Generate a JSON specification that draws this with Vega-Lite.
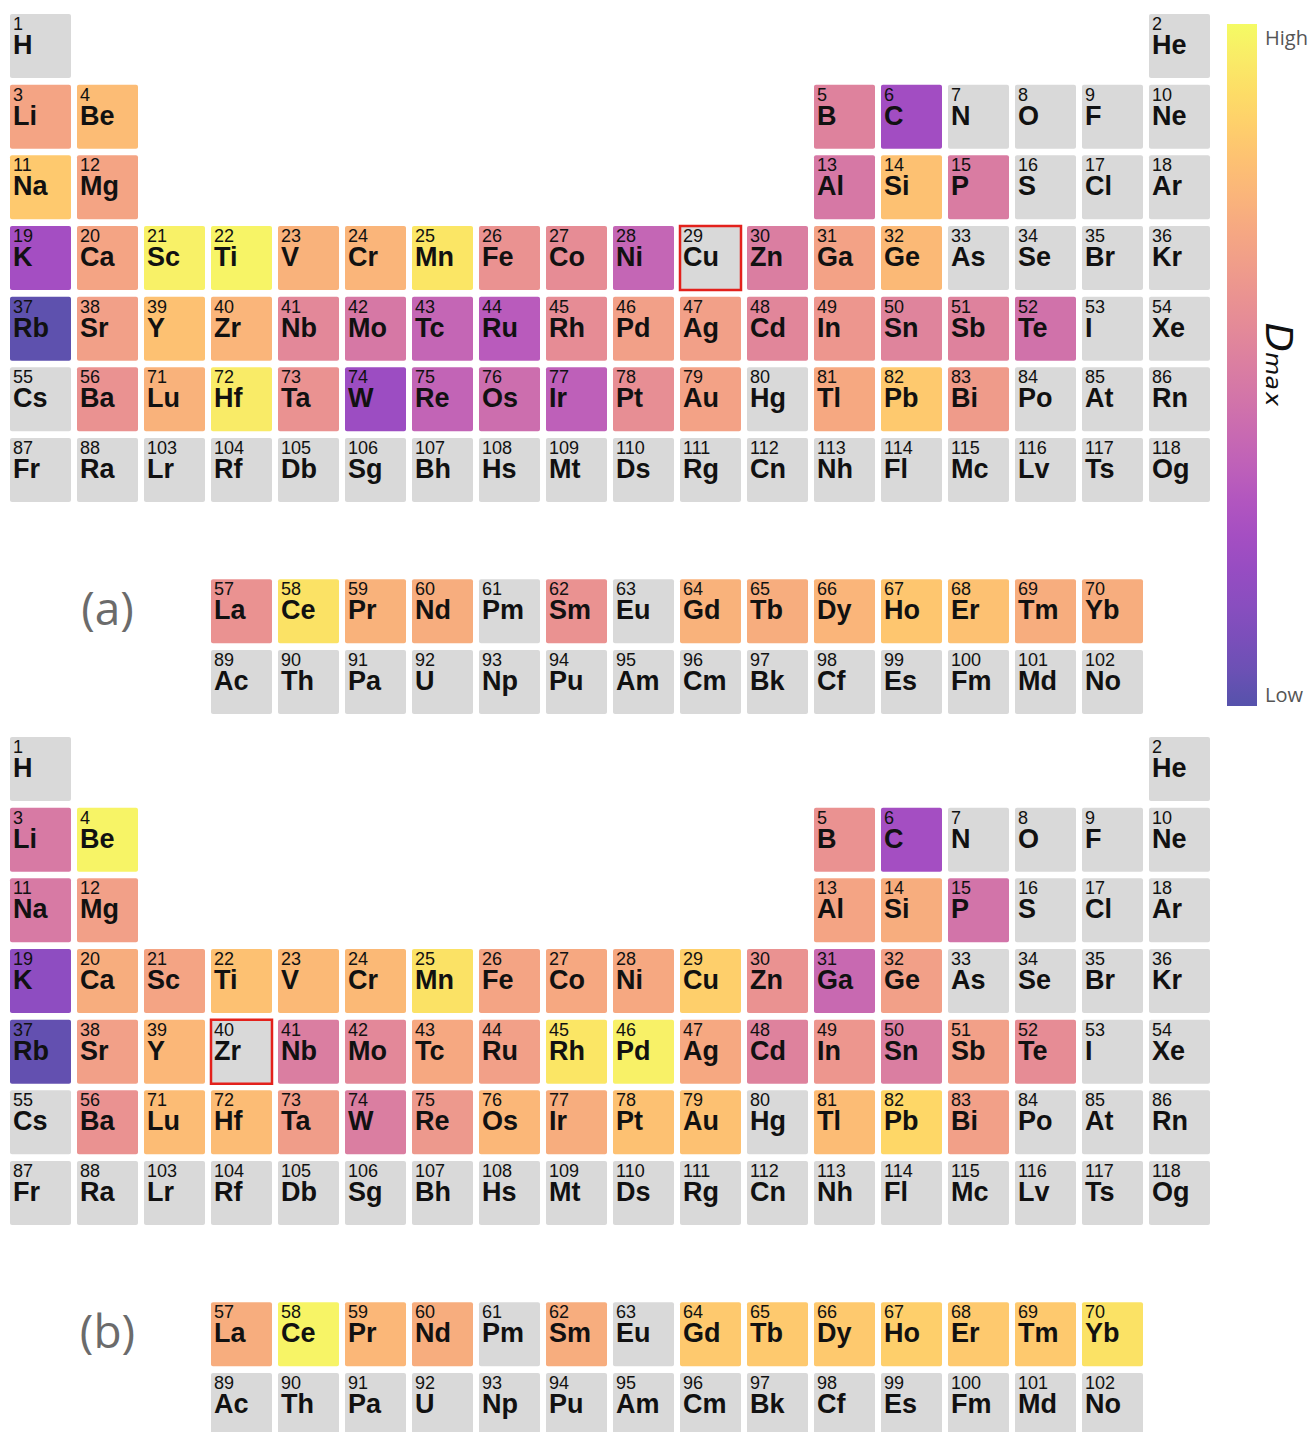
{
  "$schema": "https://vega.github.io/schema/vega-lite/v6.json",
  "padding": {"left": 10, "top": 14, "right": 0, "bottom": 0},
  "background": "white",
  "config": {
    "view": {"stroke": null},
    "concat": {"spacing": 23},
    "font": "Liberation Sans"
  },
  "datasets": {
    "elements": [
      {"z":1,"sym":"H","col":1,"row":1,"a":null,"b":null},
      {"z":2,"sym":"He","col":18,"row":1,"a":null,"b":null},
      {"z":3,"sym":"Li","col":1,"row":2,"a":0.68,"b":0.48},
      {"z":4,"sym":"Be","col":2,"row":2,"a":0.78,"b":0.98},
      {"z":5,"sym":"B","col":13,"row":2,"a":0.52,"b":0.6},
      {"z":6,"sym":"C","col":14,"row":2,"a":0.24,"b":0.25},
      {"z":7,"sym":"N","col":15,"row":2,"a":null,"b":null},
      {"z":8,"sym":"O","col":16,"row":2,"a":null,"b":null},
      {"z":9,"sym":"F","col":17,"row":2,"a":null,"b":null},
      {"z":10,"sym":"Ne","col":18,"row":2,"a":null,"b":null},
      {"z":11,"sym":"Na","col":1,"row":3,"a":0.83,"b":0.48},
      {"z":12,"sym":"Mg","col":2,"row":3,"a":0.68,"b":0.66},
      {"z":13,"sym":"Al","col":13,"row":3,"a":0.47,"b":0.68},
      {"z":14,"sym":"Si","col":14,"row":3,"a":0.8,"b":0.72},
      {"z":15,"sym":"P","col":15,"row":3,"a":0.49,"b":0.45},
      {"z":16,"sym":"S","col":16,"row":3,"a":null,"b":null},
      {"z":17,"sym":"Cl","col":17,"row":3,"a":null,"b":null},
      {"z":18,"sym":"Ar","col":18,"row":3,"a":null,"b":null},
      {"z":19,"sym":"K","col":1,"row":4,"a":0.25,"b":0.17},
      {"z":20,"sym":"Ca","col":2,"row":4,"a":0.68,"b":0.72},
      {"z":21,"sym":"Sc","col":3,"row":4,"a":0.97,"b":0.68},
      {"z":22,"sym":"Ti","col":4,"row":4,"a":0.98,"b":0.8},
      {"z":23,"sym":"V","col":5,"row":4,"a":0.74,"b":0.77},
      {"z":24,"sym":"Cr","col":6,"row":4,"a":0.75,"b":0.77},
      {"z":25,"sym":"Mn","col":7,"row":4,"a":0.93,"b":0.92},
      {"z":26,"sym":"Fe","col":8,"row":4,"a":0.6,"b":0.68},
      {"z":27,"sym":"Co","col":9,"row":4,"a":0.57,"b":0.7},
      {"z":28,"sym":"Ni","col":10,"row":4,"a":0.38,"b":0.7},
      {"z":29,"sym":"Cu","col":11,"row":4,"a":null,"b":0.85,"ref":"a"},
      {"z":30,"sym":"Zn","col":12,"row":4,"a":0.5,"b":0.6},
      {"z":31,"sym":"Ga","col":13,"row":4,"a":0.67,"b":0.4},
      {"z":32,"sym":"Ge","col":14,"row":4,"a":0.77,"b":0.66},
      {"z":33,"sym":"As","col":15,"row":4,"a":null,"b":null},
      {"z":34,"sym":"Se","col":16,"row":4,"a":null,"b":null},
      {"z":35,"sym":"Br","col":17,"row":4,"a":null,"b":null},
      {"z":36,"sym":"Kr","col":18,"row":4,"a":null,"b":null},
      {"z":37,"sym":"Rb","col":1,"row":5,"a":0.02,"b":0.03},
      {"z":38,"sym":"Sr","col":2,"row":5,"a":0.66,"b":0.66},
      {"z":39,"sym":"Y","col":3,"row":5,"a":0.8,"b":0.76},
      {"z":40,"sym":"Zr","col":4,"row":5,"a":0.75,"b":null,"ref":"b"},
      {"z":41,"sym":"Nb","col":5,"row":5,"a":0.55,"b":0.5},
      {"z":42,"sym":"Mo","col":6,"row":5,"a":0.47,"b":0.55},
      {"z":43,"sym":"Tc","col":7,"row":5,"a":0.38,"b":0.7},
      {"z":44,"sym":"Ru","col":8,"row":5,"a":0.33,"b":0.66},
      {"z":45,"sym":"Rh","col":9,"row":5,"a":0.57,"b":0.93},
      {"z":46,"sym":"Pd","col":10,"row":5,"a":0.66,"b":0.97},
      {"z":47,"sym":"Ag","col":11,"row":5,"a":0.66,"b":0.7},
      {"z":48,"sym":"Cd","col":12,"row":5,"a":0.54,"b":0.52},
      {"z":49,"sym":"In","col":13,"row":5,"a":0.62,"b":0.62},
      {"z":50,"sym":"Sn","col":14,"row":5,"a":0.53,"b":0.5},
      {"z":51,"sym":"Sb","col":15,"row":5,"a":0.52,"b":0.66},
      {"z":52,"sym":"Te","col":16,"row":5,"a":0.44,"b":0.57},
      {"z":53,"sym":"I","col":17,"row":5,"a":null,"b":null},
      {"z":54,"sym":"Xe","col":18,"row":5,"a":null,"b":null},
      {"z":55,"sym":"Cs","col":1,"row":6,"a":null,"b":null},
      {"z":56,"sym":"Ba","col":2,"row":6,"a":0.6,"b":0.6},
      {"z":71,"sym":"Lu","col":3,"row":6,"a":0.74,"b":0.78},
      {"z":72,"sym":"Hf","col":4,"row":6,"a":0.95,"b":0.78},
      {"z":73,"sym":"Ta","col":5,"row":6,"a":0.6,"b":0.65},
      {"z":74,"sym":"W","col":6,"row":6,"a":0.22,"b":0.5},
      {"z":75,"sym":"Re","col":7,"row":6,"a":0.37,"b":0.63},
      {"z":76,"sym":"Os","col":8,"row":6,"a":0.42,"b":0.76},
      {"z":77,"sym":"Ir","col":9,"row":6,"a":0.35,"b":0.72},
      {"z":78,"sym":"Pt","col":10,"row":6,"a":0.58,"b":0.8},
      {"z":79,"sym":"Au","col":11,"row":6,"a":0.67,"b":0.8},
      {"z":80,"sym":"Hg","col":12,"row":6,"a":null,"b":null},
      {"z":81,"sym":"Tl","col":13,"row":6,"a":0.7,"b":0.78},
      {"z":82,"sym":"Pb","col":14,"row":6,"a":0.83,"b":0.88},
      {"z":83,"sym":"Bi","col":15,"row":6,"a":0.64,"b":0.66},
      {"z":84,"sym":"Po","col":16,"row":6,"a":null,"b":null},
      {"z":85,"sym":"At","col":17,"row":6,"a":null,"b":null},
      {"z":86,"sym":"Rn","col":18,"row":6,"a":null,"b":null},
      {"z":87,"sym":"Fr","col":1,"row":7,"a":null,"b":null},
      {"z":88,"sym":"Ra","col":2,"row":7,"a":null,"b":null},
      {"z":103,"sym":"Lr","col":3,"row":7,"a":null,"b":null},
      {"z":104,"sym":"Rf","col":4,"row":7,"a":null,"b":null},
      {"z":105,"sym":"Db","col":5,"row":7,"a":null,"b":null},
      {"z":106,"sym":"Sg","col":6,"row":7,"a":null,"b":null},
      {"z":107,"sym":"Bh","col":7,"row":7,"a":null,"b":null},
      {"z":108,"sym":"Hs","col":8,"row":7,"a":null,"b":null},
      {"z":109,"sym":"Mt","col":9,"row":7,"a":null,"b":null},
      {"z":110,"sym":"Ds","col":10,"row":7,"a":null,"b":null},
      {"z":111,"sym":"Rg","col":11,"row":7,"a":null,"b":null},
      {"z":112,"sym":"Cn","col":12,"row":7,"a":null,"b":null},
      {"z":113,"sym":"Nh","col":13,"row":7,"a":null,"b":null},
      {"z":114,"sym":"Fl","col":14,"row":7,"a":null,"b":null},
      {"z":115,"sym":"Mc","col":15,"row":7,"a":null,"b":null},
      {"z":116,"sym":"Lv","col":16,"row":7,"a":null,"b":null},
      {"z":117,"sym":"Ts","col":17,"row":7,"a":null,"b":null},
      {"z":118,"sym":"Og","col":18,"row":7,"a":null,"b":null},
      {"z":57,"sym":"La","col":4,"row":9,"a":0.6,"b":0.72},
      {"z":58,"sym":"Ce","col":5,"row":9,"a":0.92,"b":0.98},
      {"z":59,"sym":"Pr","col":6,"row":9,"a":0.74,"b":0.76},
      {"z":60,"sym":"Nd","col":7,"row":9,"a":0.72,"b":0.72},
      {"z":61,"sym":"Pm","col":8,"row":9,"a":null,"b":null},
      {"z":62,"sym":"Sm","col":9,"row":9,"a":0.6,"b":0.72},
      {"z":63,"sym":"Eu","col":10,"row":9,"a":null,"b":null},
      {"z":64,"sym":"Gd","col":11,"row":9,"a":0.74,"b":0.83},
      {"z":65,"sym":"Tb","col":12,"row":9,"a":0.72,"b":0.83},
      {"z":66,"sym":"Dy","col":13,"row":9,"a":0.75,"b":0.83},
      {"z":67,"sym":"Ho","col":14,"row":9,"a":0.82,"b":0.85},
      {"z":68,"sym":"Er","col":15,"row":9,"a":0.8,"b":0.83},
      {"z":69,"sym":"Tm","col":16,"row":9,"a":0.72,"b":0.83},
      {"z":70,"sym":"Yb","col":17,"row":9,"a":0.72,"b":0.92},
      {"z":89,"sym":"Ac","col":4,"row":10,"a":null,"b":null},
      {"z":90,"sym":"Th","col":5,"row":10,"a":null,"b":null},
      {"z":91,"sym":"Pa","col":6,"row":10,"a":null,"b":null},
      {"z":92,"sym":"U","col":7,"row":10,"a":null,"b":null},
      {"z":93,"sym":"Np","col":8,"row":10,"a":null,"b":null},
      {"z":94,"sym":"Pu","col":9,"row":10,"a":null,"b":null},
      {"z":95,"sym":"Am","col":10,"row":10,"a":null,"b":null},
      {"z":96,"sym":"Cm","col":11,"row":10,"a":null,"b":null},
      {"z":97,"sym":"Bk","col":12,"row":10,"a":null,"b":null},
      {"z":98,"sym":"Cf","col":13,"row":10,"a":null,"b":null},
      {"z":99,"sym":"Es","col":14,"row":10,"a":null,"b":null},
      {"z":100,"sym":"Fm","col":15,"row":10,"a":null,"b":null},
      {"z":101,"sym":"Md","col":16,"row":10,"a":null,"b":null},
      {"z":102,"sym":"No","col":17,"row":10,"a":null,"b":null}
    ],
    "panels": [
      {"panel":"a","label":"(a)","col":2,"row":9},
      {"panel":"b","label":"(b)","col":2,"row":9}
    ]
  },
  "vconcat": [
    {
      "width": 1200,
      "height": 700,
      "encoding": {
        "x": {"field":"col","type":"ordinal","axis":null,"scale":{"domain":[1,2,3,4,5,6,7,8,9,10,11,12,13,14,15,16,17,18],"paddingInner":0.0896,"paddingOuter":0}},
        "y": {"field":"row","type":"ordinal","axis":null,"scale":{"domain":[1,2,3,4,5,6,7,8,9,10],"paddingInner":0.094,"paddingOuter":0}}
      },
      "layer": [
        {
          "data": {"name":"elements"},
          "transform": [{"filter":"datum.a == null"}],
          "mark": {"type":"rect","fill":"#d9d9d9","cornerRadius":2}
        },
        {
          "data": {"name":"elements"},
          "transform": [{"filter":"datum.a != null"}],
          "mark": {"type":"rect","opacity":0.7,"cornerRadius":2},
          "encoding": {
            "color": {
              "field":"a","type":"quantitative",
              "scale":{"scheme":"plasma","domain":[0,1]},
              "legend": {
                "orient":"none","legendX":1217,"legendY":10,"direction":"vertical",
                "gradientLength":682,"gradientThickness":30,"gradientOpacity":0.7,"gradientStrokeWidth":0,
                "values":[0.015,0.978],
                "labelExpr":"datum.value > 0.5 ? 'High' : 'Low'",
                "labelBaseline":"middle",
                "labelFont":"Open Sans","labelFontSize":20,"labelColor":"#555","labelOffset":8,
                "title":"Dₘₐₓ","titleOrient":"right","titleAngle":90,"titleAnchor":"middle",
                "titleFont":"DejaVu Sans","titleFontSize":38,"titleFontStyle":"italic","titleFontWeight":"normal","titleColor":"#111","titlePadding":-50
              }
            }
          }
        },
        {
          "data": {"name":"elements"},
          "transform": [{"filter":"datum.ref == 'a'"}],
          "mark": {"type":"rect","filled":false,"stroke":"#e3211c","strokeWidth":2.5}
        },
        {
          "data": {"name":"elements"},
          "mark": {"type":"text","align":"left","baseline":"alphabetic","dx":3,"dy":16,"font":"Liberation Sans","fontSize":18,"color":"#111"},
          "encoding": {
            "x": {"field":"col","type":"ordinal","bandPosition":0},
            "y": {"field":"row","type":"ordinal","bandPosition":0},
            "text": {"field":"z"}
          }
        },
        {
          "data": {"name":"elements"},
          "mark": {"type":"text","align":"left","baseline":"alphabetic","dx":3,"dy":40,"font":"Liberation Sans","fontSize":27,"fontWeight":"bold","color":"#111"},
          "encoding": {
            "x": {"field":"col","type":"ordinal","bandPosition":0},
            "y": {"field":"row","type":"ordinal","bandPosition":0},
            "text": {"field":"sym"}
          }
        },
        {
          "data": {"name":"panels"},
          "transform": [{"filter":"datum.panel == 'a'"}],
          "mark": {"type":"text","align":"center","baseline":"middle","font":"Open Sans","fontSize":46,"color":"#6b6b6b"},
          "encoding": {"text": {"field":"label"}}
        }
      ]
    },
    {
      "width": 1200,
      "height": 700,
      "encoding": {
        "x": {"field":"col","type":"ordinal","axis":null,"scale":{"domain":[1,2,3,4,5,6,7,8,9,10,11,12,13,14,15,16,17,18],"paddingInner":0.0896,"paddingOuter":0}},
        "y": {"field":"row","type":"ordinal","axis":null,"scale":{"domain":[1,2,3,4,5,6,7,8,9,10],"paddingInner":0.094,"paddingOuter":0}}
      },
      "layer": [
        {
          "data": {"name":"elements"},
          "transform": [{"filter":"datum.b == null"}],
          "mark": {"type":"rect","fill":"#d9d9d9","cornerRadius":2}
        },
        {
          "data": {"name":"elements"},
          "transform": [{"filter":"datum.b != null"}],
          "mark": {"type":"rect","opacity":0.7,"cornerRadius":2},
          "encoding": {
            "color": {
              "field":"b","type":"quantitative",
              "scale":{"scheme":"plasma","domain":[0,1]},
              "legend": {
                "orient":"none","legendX":1217,"legendY":10,"direction":"vertical",
                "gradientLength":682,"gradientThickness":30,"gradientOpacity":0.7,"gradientStrokeWidth":0,
                "values":[0.015,0.978],
                "labelExpr":"datum.value > 0.5 ? 'High' : 'Low'",
                "labelBaseline":"middle",
                "labelFont":"Open Sans","labelFontSize":20,"labelColor":"#555","labelOffset":8,
                "title":"Dₘₐₓ","titleOrient":"right","titleAngle":90,"titleAnchor":"middle",
                "titleFont":"DejaVu Sans","titleFontSize":38,"titleFontStyle":"italic","titleFontWeight":"normal","titleColor":"#111","titlePadding":-50
              }
            }
          }
        },
        {
          "data": {"name":"elements"},
          "transform": [{"filter":"datum.ref == 'b'"}],
          "mark": {"type":"rect","filled":false,"stroke":"#e3211c","strokeWidth":2.5}
        },
        {
          "data": {"name":"elements"},
          "mark": {"type":"text","align":"left","baseline":"alphabetic","dx":3,"dy":16,"font":"Liberation Sans","fontSize":18,"color":"#111"},
          "encoding": {
            "x": {"field":"col","type":"ordinal","bandPosition":0},
            "y": {"field":"row","type":"ordinal","bandPosition":0},
            "text": {"field":"z"}
          }
        },
        {
          "data": {"name":"elements"},
          "mark": {"type":"text","align":"left","baseline":"alphabetic","dx":3,"dy":40,"font":"Liberation Sans","fontSize":27,"fontWeight":"bold","color":"#111"},
          "encoding": {
            "x": {"field":"col","type":"ordinal","bandPosition":0},
            "y": {"field":"row","type":"ordinal","bandPosition":0},
            "text": {"field":"sym"}
          }
        },
        {
          "data": {"name":"panels"},
          "transform": [{"filter":"datum.panel == 'b'"}],
          "mark": {"type":"text","align":"center","baseline":"middle","font":"Open Sans","fontSize":46,"color":"#6b6b6b"},
          "encoding": {"text": {"field":"label"}}
        }
      ]
    }
  ]
}
